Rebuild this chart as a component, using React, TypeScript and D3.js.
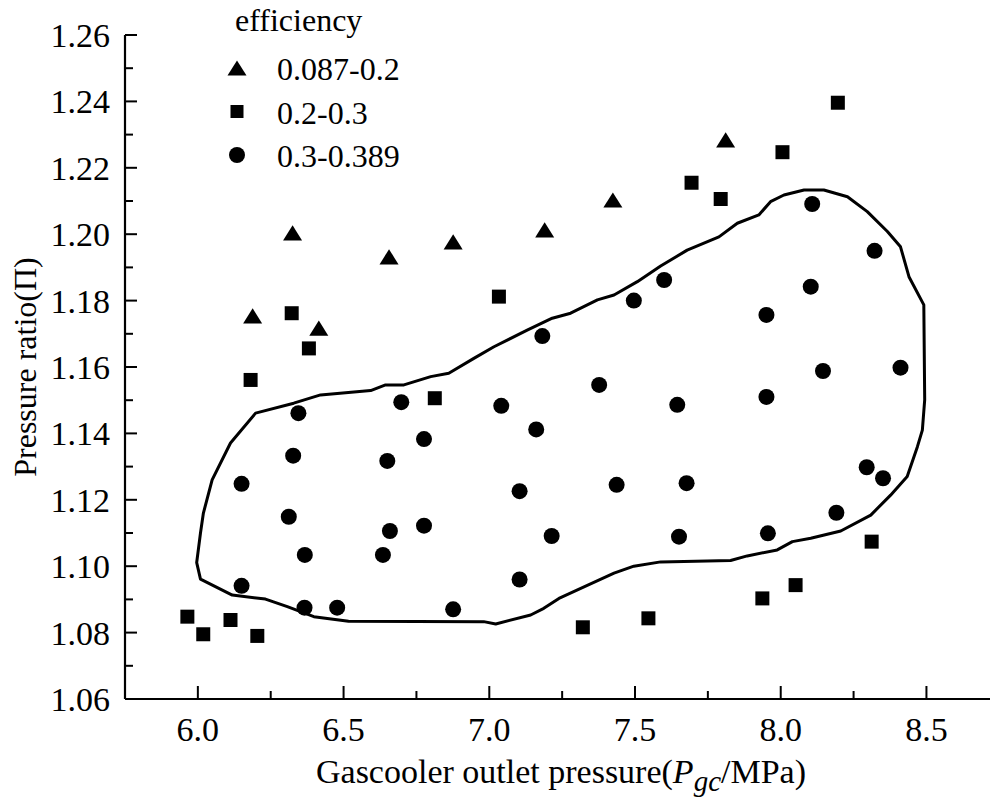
import React from "react";
import * as d3 from "d3";

const triX = [6.188, 6.325, 6.415, 6.656, 6.876, 7.19, 7.424, 7.811];
const triY = [1.1754, 1.2004, 1.1717, 1.1932, 1.1977, 1.2013, 1.2103, 1.2284];

const sqX = [6.322, 6.181, 6.381, 7.033, 6.813, 8.196, 8.006, 7.694, 7.794, 5.964, 6.0185, 6.112, 6.204, 7.321, 7.546, 7.937, 8.051, 8.312];
const sqY = [1.1762, 1.1561, 1.1656, 1.1812, 1.1506, 1.2396, 1.2247, 1.2155, 1.2106, 1.0848, 1.0795, 1.0838, 1.079, 1.0816, 1.0843, 1.0903, 1.0943, 1.1074];

const ciX = [6.345, 6.327, 6.15, 6.312, 6.367, 6.15, 6.366, 6.478, 6.698, 6.776, 6.65, 6.776, 6.659, 6.635, 6.876, 7.041, 7.161, 7.104, 7.437, 7.214, 7.104, 7.377, 7.182, 7.496, 7.6, 8.108, 8.322, 8.103, 7.951, 8.145, 8.411, 7.951, 7.645, 7.677, 7.651, 7.956, 8.191, 8.295, 8.351];
const ciY = [1.1461, 1.1333, 1.1248, 1.1149, 1.1034, 1.0941, 1.0875, 1.0875, 1.1494, 1.1383, 1.1317, 1.1122, 1.1106, 1.1034, 1.087, 1.1483, 1.1412, 1.1226, 1.1245, 1.1091, 1.096, 1.1546, 1.1693, 1.18, 1.1862, 1.2091, 1.195, 1.1842, 1.1757, 1.1588, 1.1598, 1.151, 1.1486, 1.125, 1.1089, 1.1099, 1.1161, 1.1298, 1.1265];

const contourX = [6.198, 6.329, 6.421, 6.593, 6.644, 6.707, 6.799, 6.861, 6.947, 7.016, 7.13, 7.216, 7.279, 7.371, 7.428, 7.508, 7.588, 7.679, 7.788, 7.851, 7.925, 7.965, 8.011, 8.08, 8.148, 8.229, 8.297, 8.366, 8.411, 8.44, 8.491, 8.494, 8.486, 8.469, 8.434, 8.377, 8.309, 8.206, 8.103, 8.04, 7.988, 7.885, 7.828, 7.588, 7.496, 7.428, 7.325, 7.239, 7.187, 7.142, 7.022, 6.981, 6.517, 6.398, 6.307, 6.232, 6.118, 6.009, 5.996, 6.009, 6.019, 6.049, 6.112];
const contourY = [1.1461, 1.1491, 1.1516, 1.1529, 1.1546, 1.1546, 1.1571, 1.1581, 1.1626, 1.1661, 1.1711, 1.1747, 1.1762, 1.1802, 1.1817, 1.1857, 1.1904, 1.1952, 1.1992, 1.2033, 1.2058, 1.2098, 1.2118, 1.2133, 1.2133, 1.2113, 1.2068, 1.2008, 1.1962, 1.1872, 1.1787, 1.1501, 1.141, 1.136, 1.127, 1.1214, 1.1154, 1.1106, 1.1084, 1.1074, 1.1049, 1.1031, 1.1017, 1.1013, 1.1, 1.0979, 1.0938, 1.0903, 1.0873, 1.0853, 1.0826, 1.0833, 1.0834, 1.0848, 1.0878, 1.0901, 1.0913, 1.0961, 1.1011, 1.11, 1.116, 1.126, 1.1371];

const xTicks = [6.0, 6.5, 7.0, 7.5, 8.0, 8.5];
const xMinor = [5.75, 6.25, 6.75, 7.25, 7.75, 8.25, 8.75];
const yTicks = [1.06, 1.08, 1.1, 1.12, 1.14, 1.16, 1.18, 1.2, 1.22, 1.24, 1.26];
const yMinor = [1.07, 1.09, 1.11, 1.13, 1.15, 1.17, 1.19, 1.21, 1.23, 1.25];
const legendTitle = "efficiency";
const legendLabels = ["0.087-0.2", "0.2-0.3", "0.3-0.389"];

const FONT = '"Liberation Serif", "DejaVu Serif", serif';
const txt = { fontFamily: FONT } as React.CSSProperties;

const triangleType = {
  draw(ctx: any, size: number) {
    const w = Math.sqrt(size);
    const h = w * 0.8;
    ctx.moveTo(0, -h / 2);
    ctx.lineTo(w / 2, h / 2);
    ctx.lineTo(-w / 2, h / 2);
    ctx.closePath();
  },
};

export default function App() {
  const W = 990, H = 805;
  const x = d3.scaleLinear().domain([5.75, 8.75]).range([125, 999.3]);
  const y = d3.scaleLinear().domain([1.06, 1.26]).range([699, 35]);

  const triPath = d3.symbol().type(triangleType as any).size(19 * 19)() as string;
  const sqPath = d3.symbol().type(d3.symbolSquare).size(14 * 14)() as string;

  const contour = contourX.map((v, i) => [v, contourY[i]] as [number, number]);
  const line = d3
    .line<[number, number]>()
    .x((d) => x(d[0]))
    .y((d) => y(d[1]))
    .curve(d3.curveLinearClosed);

  const x0 = x(5.75), y0 = y(1.06);

  return (
    <svg
      width={W}
      height={H}
      style={{ position: "absolute", left: 0, top: 0, background: "#fff", fontFamily: FONT }}
    >
      <rect width={W} height={H} fill="#fff" />
      <path d={line(contour) as string} fill="none" stroke="#000" strokeWidth={3} strokeLinejoin="round" />

      <line x1={x0} x2={W} y1={y0} y2={y0} stroke="#000" strokeWidth={2.2} />
      <line x1={x0} x2={x0} y1={y(1.26)} y2={y0} stroke="#000" strokeWidth={2.2} />
      {xTicks.map((t) => (
        <g key={"xt" + t}>
          <line x1={x(t)} x2={x(t)} y1={y0} y2={y0 - 13} stroke="#000" strokeWidth={2} />
          <text style={txt} x={x(t)} y={741} fontSize={34} textAnchor="middle">{t.toFixed(1)}</text>
        </g>
      ))}
      {xMinor.map((t) => (
        <line key={"xm" + t} x1={x(t)} x2={x(t)} y1={y0} y2={y0 - 8} stroke="#000" strokeWidth={2} />
      ))}
      {yTicks.map((t) => (
        <g key={"yt" + t}>
          <line x1={x0} x2={x0 + 12} y1={y(t)} y2={y(t)} stroke="#000" strokeWidth={2} />
          <text style={txt} x={110} y={y(t) + 12} fontSize={34} textAnchor="end">{t.toFixed(2)}</text>
        </g>
      ))}
      {yMinor.map((t) => (
        <line key={"ym" + t} x1={x0} x2={x0 + 8} y1={y(t)} y2={y(t)} stroke="#000" strokeWidth={2} />
      ))}

      <text style={txt} x={561} y={783} fontSize={34} textAnchor="middle">
        Gascooler outlet pressure(<tspan fontStyle="italic">P</tspan>
        <tspan fontStyle="italic" fontSize={29} dy={8}>gc</tspan>
        <tspan dy={-8}>/MPa)</tspan>
      </text>
      <text style={txt} transform="translate(36,367) rotate(-90)" fontSize={32} textAnchor="middle">
        Pressure ratio(Π)
      </text>

      {triX.map((v, i) => (
        <path key={"t" + i} d={triPath} transform={`translate(${x(v)},${y(triY[i])})`} fill="#000" />
      ))}
      {sqX.map((v, i) => (
        <path key={"s" + i} d={sqPath} transform={`translate(${x(v)},${y(sqY[i])})`} fill="#000" />
      ))}
      {ciX.map((v, i) => (
        <circle key={"c" + i} cx={x(v)} cy={y(ciY[i])} r={8} fill="#000" />
      ))}

      <text style={txt} x={235} y={31} fontSize={32}>{legendTitle}</text>
      {legendLabels.map((lab, i) => {
        const cy = 68 + i * 43.5;
        return (
          <g key={"lg" + i}>
            {i === 0 && <path d={triPath} transform={`translate(237,${cy})`} fill="#000" />}
            {i === 1 && <path d={d3.symbol().type(d3.symbolSquare).size(13 * 13)() as string} transform={`translate(237,${cy})`} fill="#000" />}
            {i === 2 && <circle cx={237} cy={cy} r={8} fill="#000" />}
            <text style={txt} x={277} y={cy + 12} fontSize={32}>{lab}</text>
          </g>
        );
      })}
    </svg>
  );
}
